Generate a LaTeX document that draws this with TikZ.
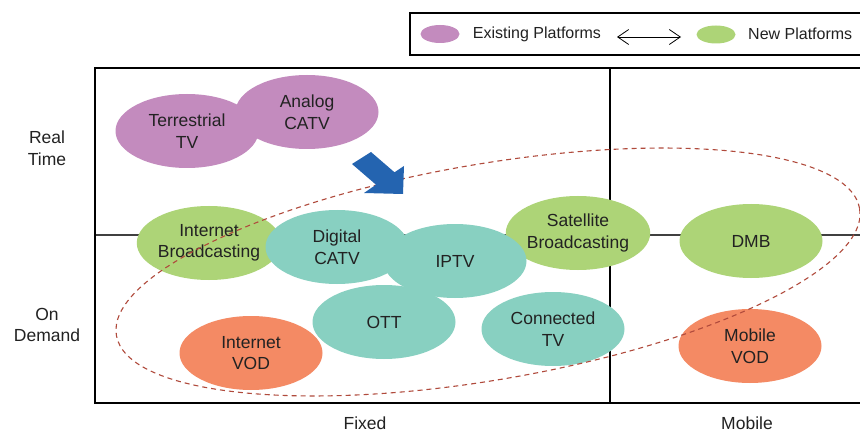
\documentclass[tikz,border=0pt]{standalone}
\usepackage{fontspec}
\setmainfont{Liberation Sans}
\usetikzlibrary{shapes.geometric,arrows.meta}
\definecolor{exist}{HTML}{C38BBE}
\definecolor{newp}{HTML}{ADD477}
\definecolor{teal}{HTML}{88D0C1}
\definecolor{vod}{HTML}{F48A64}
\definecolor{bluearrow}{HTML}{2464B0}
\definecolor{dashc}{HTML}{B04A3C}
\definecolor{txt}{HTML}{222222}
\begin{document}
\begin{tikzpicture}[x=1pt,y=-1pt,
  plat/.style={ellipse,minimum width=143pt,minimum height=74pt,inner sep=0pt,
    align=center,text=txt,font=\fontsize{17.5}{21.5}\selectfont},
  lab/.style={align=center,text=txt,font=\fontsize{17.5}{21.5}\selectfont},
  legtxt/.style={text=txt,font=\fontsize{16}{19}\selectfont,inner sep=0pt},
  frame/.style={line width=1.3pt,draw=black}]
\useasboundingbox (0,0) rectangle (860,433);
\fill[white] (0,0) rectangle (860,433);
% legend
\draw[line width=1.2pt] (410,13) rectangle (866,55);
\node[ellipse,fill=exist,minimum width=39pt,minimum height=18pt,inner sep=0pt] (le) at (440,34) {};
\node[legtxt] (lt1) at (537,34) {Existing Platforms};
\node[ellipse,fill=newp,minimum width=39pt,minimum height=18pt,inner sep=0pt] (ln) at (716,34.5) {};
\node[legtxt,anchor=west] (lt2) at (748,34) {New Platforms};
\coordinate (la1) at (617,37);
\coordinate (la2) at (681,37);
\draw[line width=0.8pt,{Straight Barb[length=11pt,width=15pt]}-{Straight Barb[length=11pt,width=15pt]}] (la1) -- (la2);
% frame
\coordinate (fl) at (95,235);
\coordinate (fr) at (866,235);
\draw[line width=1.2pt,draw=black!75] (fl) -- (fr);
\draw[frame] (866,68) -- (95,68) -- (95,403) -- (866,403);
\draw[frame] (610,68) -- (610,403);
% platforms
\node[plat,fill=exist] (analog) at (307,112) {Analog\\CATV};
\node[plat,fill=exist] (terr) at (187,131) {Terrestrial\\TV};
\node[plat,fill=newp] (ib) at (209,243) {Internet\\Broadcasting};
\node[plat,fill=teal] (dcatv) at (337,247) {Digital\\CATV};
\node[plat,fill=newp] (sat) at (578,233) {Satellite\\Broadcasting};
\node[plat,fill=teal] (ott) at (384,322) {OTT};
\node[plat,fill=teal] (iptv) at (455,261) {IPTV};
\node[plat,fill=teal] (ctv) at (553,329) {Connected\\TV};
\node[plat,fill=vod] (ivod) at (251,353) {Internet\\VOD};
\node[plat,fill=newp] (dmb) at (751,241) {DMB};
\node[plat,fill=vod] (mvod) at (750,346) {Mobile\\VOD};
% dashed grouping
\draw[dashc,line width=1.1pt,dash pattern=on 5pt off 4pt,rotate around={9.7:(488,272)}]
  (488,272) ellipse [x radius=377pt,y radius=108pt];
% blue block arrow
\fill[bluearrow] (352,164) -- (371,152) -- (394.5,172.3) -- (404,166) -- (403,194) -- (364,193) -- (376,184.7) -- cycle;
% axis labels
\node[lab] (rt) at (47,148) {Real\\Time};
\node[lab] (od) at (47,325) {On\\Demand};
\node[lab] (fx) at (365,423) {Fixed};
\node[lab] (mb) at (747,423) {Mobile};
\end{tikzpicture}
\end{document}
